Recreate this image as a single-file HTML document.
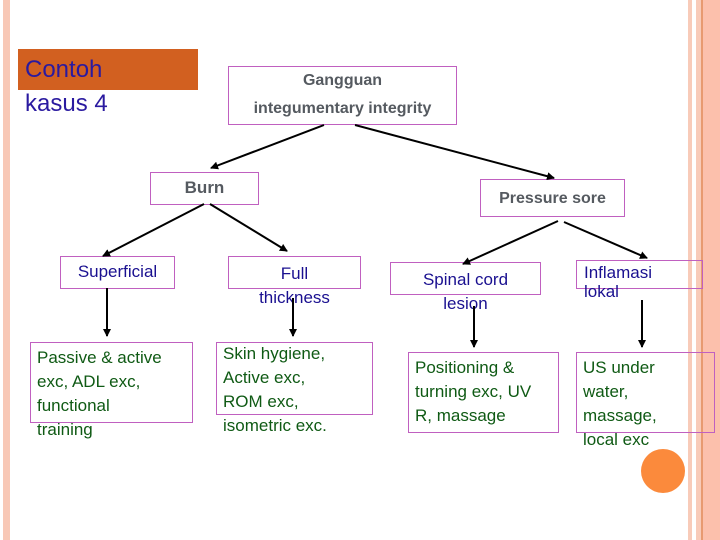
<!DOCTYPE html>
<html><head><style>
body{margin:0;width:720px;height:540px;position:relative;background:#fff;overflow:hidden;font-family:"Liberation Sans",sans-serif}
.b{position:absolute;border:1px solid #c060c0;box-sizing:border-box}
.t{position:absolute;white-space:nowrap}
.blue{color:#1a1090;font-size:17px}
.green{color:#0f5a14;font-size:17px;line-height:24px}
.gray{color:#555a60;font-weight:bold}
</style></head><body>
<div style="position:absolute;left:3px;top:0;width:7px;height:540px;background:#f8c8b6"></div>
<div style="position:absolute;left:688px;top:0;width:4px;height:540px;background:#f8cbb9"></div>
<div style="position:absolute;left:696px;top:0;width:5px;height:540px;background:#f8cbb9"></div>
<div style="position:absolute;left:701px;top:0;width:2px;height:540px;background:#e89a70"></div>
<div style="position:absolute;left:703px;top:0;width:17px;height:540px;background:#fcc0ac"></div>
<div style="position:absolute;left:18px;top:49px;width:180px;height:41px;background:#d26020"></div>
<div class="t" style="left:25px;top:56px;font-size:24px;color:#2a1aa0">Contoh</div>
<div class="t" style="left:25px;top:90px;font-size:24px;color:#2a1aa0">kasus 4</div>

<div class="b" style="left:228px;top:66px;width:229px;height:59px"></div>
<div class="t gray" style="left:228px;width:229px;text-align:center;top:72px;font-size:16px">Gangguan</div>
<div class="t gray" style="left:228px;width:229px;text-align:center;top:100px;font-size:16px">integumentary integrity</div>

<div class="b" style="left:150px;top:172px;width:109px;height:33px"></div>
<div class="t gray" style="left:150px;width:109px;text-align:center;top:178px;font-size:17px">Burn</div>
<div class="b" style="left:480px;top:179px;width:145px;height:38px"></div>
<div class="t gray" style="left:480px;width:145px;text-align:center;top:190px;font-size:16px">Pressure sore</div>

<div class="b" style="left:60px;top:256px;width:115px;height:33px"></div>
<div class="t blue" style="left:60px;width:115px;text-align:center;top:262px">Superficial</div>
<div class="b" style="left:228px;top:256px;width:133px;height:33px"></div>
<div class="t blue" style="left:228px;width:133px;text-align:center;top:262px;line-height:24px">Full<br>thickness</div>
<div class="b" style="left:390px;top:262px;width:151px;height:33px"></div>
<div class="t blue" style="left:390px;width:151px;text-align:center;top:268px;line-height:24px">Spinal cord<br>lesion</div>
<div class="b" style="left:576px;top:260px;width:127px;height:29px"></div>
<div class="t blue" style="left:584px;top:263px;line-height:19px">Inflamasi<br>lokal</div>

<div class="b" style="left:30px;top:342px;width:163px;height:81px"></div>
<div class="t green" style="left:37px;top:346px">Passive &amp; active<br>exc, ADL exc,<br>functional<br>training</div>
<div class="b" style="left:216px;top:342px;width:157px;height:73px"></div>
<div class="t green" style="left:223px;top:342px">Skin hygiene,<br>Active exc,<br>ROM exc,<br>isometric exc.</div>
<div class="b" style="left:408px;top:352px;width:151px;height:81px"></div>
<div class="t green" style="left:415px;top:356px">Positioning &amp;<br>turning exc, UV<br>R, massage</div>
<div class="b" style="left:576px;top:352px;width:139px;height:81px"></div>
<div class="t green" style="left:583px;top:356px">US under<br>water,<br>massage,<br>local exc</div>

<div style="position:absolute;left:641px;top:449px;width:44px;height:44px;border-radius:50%;background:#fb8a3c"></div>

<svg width="720" height="540" style="position:absolute;left:0;top:0">
<defs><marker id="a" markerWidth="8" markerHeight="8" refX="7" refY="4" orient="auto" markerUnits="userSpaceOnUse"><path d="M0,0L8,4L0,8z" fill="#000"/></marker></defs>
<g stroke="#000" stroke-width="2" marker-end="url(#a)">
<line x1="324" y1="125" x2="211" y2="168"/>
<line x1="355" y1="125" x2="554" y2="178"/>
<line x1="204" y1="204" x2="103" y2="256"/>
<line x1="210" y1="204" x2="287" y2="251"/>
<line x1="558" y1="221" x2="463" y2="264"/>
<line x1="564" y1="222" x2="647" y2="258"/>
<line x1="107" y1="288" x2="107" y2="336"/>
<line x1="293" y1="298" x2="293" y2="336"/>
<line x1="474" y1="306" x2="474" y2="347"/>
<line x1="642" y1="300" x2="642" y2="347"/>
</g></svg>
</body></html>
